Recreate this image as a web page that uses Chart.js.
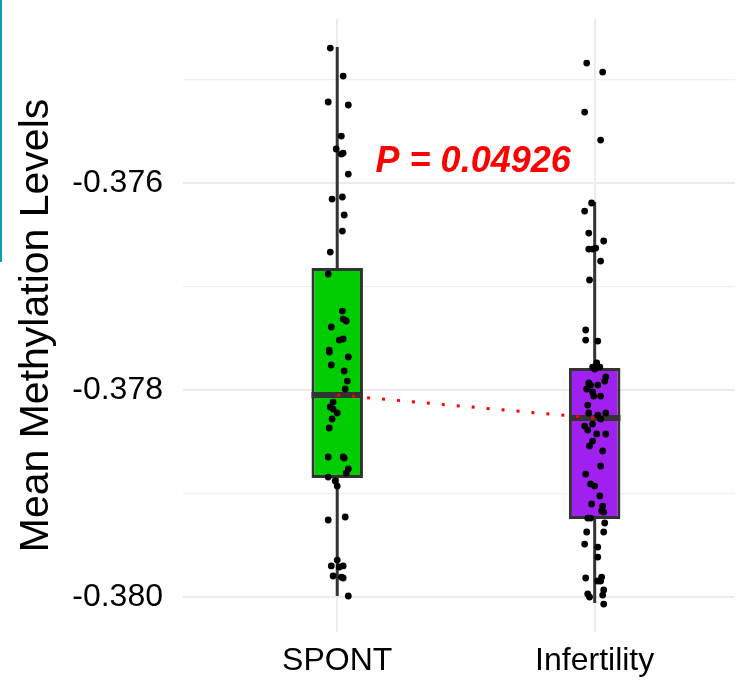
<!DOCTYPE html>
<html>
<head>
<meta charset="utf-8">
<script src="https://cdn.jsdelivr.net/npm/chart.js@4.4.1/dist/chart.umd.min.js"></script>
<style>
  html, body { margin: 0; padding: 0; background: #fff; }
  #wrap { width: 739px; height: 684px; }
</style>
</head>
<body>
<div id="wrap"><canvas id="box" width="739" height="684"></canvas></div>
<script>
"use strict"
// data
const groups = ['SPONT', 'Infertility'];
const whiskerLow = [-0.37999, -0.380058];
const q1 = [-0.37885, -0.379246];
const medians = [-0.378048, -0.378271];
const q3 = [-0.376821, -0.377787];
const whiskerHigh = [-0.374686, -0.376184];

const spontValues = [
  -0.374696, -0.374966, -0.375217, -0.375246, -0.375546, -0.375671, -0.37572, -0.37571,
  -0.375913, -0.376155, -0.376135, -0.376309, -0.376464, -0.376667, -0.376879, -0.377237,
  -0.377314, -0.377333, -0.377391, -0.377517, -0.377507, -0.377614, -0.377633, -0.377681,
  -0.377758, -0.377816, -0.377913, -0.37799, -0.378116, -0.378164, -0.378184, -0.378222,
  -0.37828, -0.378367, -0.378647, -0.378647, -0.378657, -0.378763, -0.378802, -0.378841,
  -0.378879, -0.378928, -0.379256, -0.379227, -0.379643, -0.3797, -0.37971, -0.3797,
  -0.379797, -0.379807, -0.379816, -0.37999
];
const spontJitter = [
  -0.027, 0.023, -0.035, 0.043, 0.016, -0.004, 0.016, 0.023,
  0.043, -0.02, 0.02, 0.027, 0.02, -0.027, -0.035, 0.02,
  0.023, 0.035, -0.023, 0.008, 0.023, -0.031, -0.031, 0.043,
  -0.023, 0.027, 0.039, 0.031, -0.016, -0.027, -0.016, 0,
  -0.02, -0.031, -0.035, 0.023, 0.027, 0.043, 0.035, -0.035,
  -0.008, 0, -0.035, 0.031, 0, -0.023, 0.008, 0.023,
  -0.016, 0.016, 0.023, 0.043
];
const infertValues = [
  -0.374841, -0.374928, -0.375314, -0.375585, -0.376193, -0.376271, -0.376483, -0.37656,
  -0.376638, -0.376638, -0.376628, -0.376754, -0.376937, -0.37742, -0.377517, -0.377527,
  -0.377739, -0.377778, -0.377797, -0.377778, -0.377874, -0.377913, -0.377932, -0.377952,
  -0.377952, -0.37799, -0.378019, -0.378058, -0.378058, -0.378145, -0.378222, -0.378242,
  -0.378222, -0.37828, -0.378329, -0.378348, -0.378386, -0.378425, -0.378425, -0.378493,
  -0.378541, -0.378589, -0.378734, -0.378812, -0.378908, -0.378928, -0.379024, -0.379101,
  -0.379121, -0.379169, -0.379179, -0.379237, -0.379237, -0.379285, -0.379372, -0.379372,
  -0.379488, -0.379517, -0.379614, -0.379816, -0.379807, -0.379845, -0.379845, -0.379932,
  -0.379971, -0.38, -0.379981, -0.380068
];
const infertJitter = [
  -0.031, 0.031, -0.039, 0.023, -0.012, -0.039, -0.023, 0.035,
  -0.023, -0.008, 0.004, 0.023, -0.02, -0.035, -0.035, 0.012,
  0.008, -0.008, 0, 0.02, 0.043, 0.039, -0.023, -0.016,
  0.012, -0.031, -0.008, -0.004, 0.023, -0.027, -0.023, 0.012,
  0.043, 0.023, -0.008, -0.039, -0.027, 0.008, 0.043, -0.008,
  -0.02, 0.031, 0.023, -0.035, -0.016, 0, 0.02, -0.012,
  0.031, 0.027, 0.035, -0.027, -0.016, 0.039, -0.031, 0.035,
  -0.039, 0.012, 0.012, -0.035, 0.027, 0.012, 0.023, 0.035,
  -0.027, -0.02, 0.031, 0.035
];

const yTicks = [-0.380, -0.379, -0.378, -0.377, -0.376, -0.375];
const yTickLabels = ['-0.380', '', '-0.378', '', '-0.376', ''];
const xTicks = [1, 2];
const pValueText = 'P = 0.04926';
const pValuePos = { x: 1.528, y: -0.375891 };

// styles
const boxFill = ['#00CD00', '#A020F0'];
const boxWidth = 0.2;
const lineGrey = '#333333';
const font = "'Liberation Sans', Arial, sans-serif";

const pointsData = [];
spontValues.forEach((v, i) => pointsData.push({ x: 1 + spontJitter[i], y: v }));
infertValues.forEach((v, i) => pointsData.push({ x: 2 + infertJitter[i], y: v }));

const datasets = [];
// whiskers
groups.forEach((g, i) => {
  datasets.push({
    type: 'line', order: 5, showLine: true,
    data: [{ x: i + 1, y: whiskerLow[i] }, { x: i + 1, y: whiskerHigh[i] }],
    borderColor: lineGrey, borderWidth: 3, pointRadius: 0
  });
});
// boxes
datasets.push({
  type: 'bar', order: 4,
  data: groups.map((g, i) => ({ x: i + 1, y: [q1[i], q3[i]] })),
  backgroundColor: boxFill, borderColor: lineGrey, borderWidth: 3,
  borderSkipped: false, categoryPercentage: 1, barPercentage: boxWidth
});
// median lines
groups.forEach((g, i) => {
  datasets.push({
    type: 'line', order: 3, showLine: true,
    data: [{ x: i + 1 - boxWidth / 2, y: medians[i] }, { x: i + 1 + boxWidth / 2, y: medians[i] }],
    borderColor: lineGrey, borderWidth: 6, pointRadius: 0, borderCapStyle: 'butt'
  });
});
// jitter points
datasets.push({
  type: 'scatter', order: 2,
  data: pointsData,
  backgroundColor: '#000', borderWidth: 0, pointRadius: 3.4
});
// dotted line between medians
datasets.push({
  type: 'line', order: 1, showLine: true,
  data: groups.map((g, i) => ({ x: i + 1, y: medians[i] })),
  borderColor: '#FF0000', borderWidth: 3, borderDash: [3, 12], pointRadius: 0
});

const pLabel = {
  id: 'pLabel',
  afterDatasetsDraw(chart) {
    const { ctx, scales } = chart;
    ctx.save();
    ctx.font = 'italic bold 36px ' + font;
    ctx.fillStyle = '#FF0000';
    ctx.textAlign = 'center';
    ctx.textBaseline = 'alphabetic';
    ctx.fillText(pValueText, scales.x.getPixelForValue(pValuePos.x), scales.y.getPixelForValue(pValuePos.y));
    ctx.restore();
  },
  afterDraw(chart) {
    // thin teal edge seen on the left of the screenshot
    const ctx = chart.ctx;
    ctx.save();
    ctx.fillStyle = '#0aa0b4';
    ctx.fillRect(0, 0, 2, 262);
    ctx.restore();
  }
};

new Chart(document.getElementById('box'), {
  type: 'scatter',
  data: { datasets: datasets },
  plugins: [pLabel],
  options: {
    responsive: false,
    devicePixelRatio: 1,
    animation: false,
    layout: { padding: { top: 19, left: -1, right: -6, bottom: 0 } },
    plugins: { legend: { display: false }, tooltip: { enabled: false } },
    scales: {
      x: {
        type: 'linear',
        min: 0.401,
        max: 2.545,
        offset: false,
        afterBuildTicks: (axis) => { axis.ticks = xTicks.map(v => ({ value: v })); },
        afterFit: (axis) => { axis.height = 52; axis.paddingLeft = 0; axis.paddingRight = 0; },
        ticks: {
          callback: (v, i) => groups[i],
          color: '#000',
          padding: 10,
          maxRotation: 0,
          font: { family: font, size: 32 }
        },
        grid: { color: '#ebebeb', lineWidth: 2, drawTicks: false, offset: false },
        border: { display: false }
      },
      y: {
        type: 'linear',
        min: -0.380338,
        max: -0.374415,
        afterBuildTicks: (axis) => { axis.ticks = yTicks.map(v => ({ value: v })); },
        afterFit: (axis) => { axis.width = 184; axis.paddingTop = 0; axis.paddingBottom = 0; },
        ticks: {
          callback: (v, i) => yTickLabels[i],
          color: '#000',
          padding: 20,
          font: { family: font, size: 32 }
        },
        grid: {
          color: (c) => c.index % 2 === 0 ? '#ebebeb' : '#f0f0f0',
          lineWidth: (c) => c.index % 2 === 0 ? 2 : 1.3,
          drawTicks: false
        },
        border: { display: false },
        title: {
          display: true,
          text: 'Mean Methylation Levels',
          color: '#000',
          padding: { top: 13, bottom: 0 },
          font: { family: font, size: 41 }
        }
      }
    }
  }
});
</script>
</body>
</html>
